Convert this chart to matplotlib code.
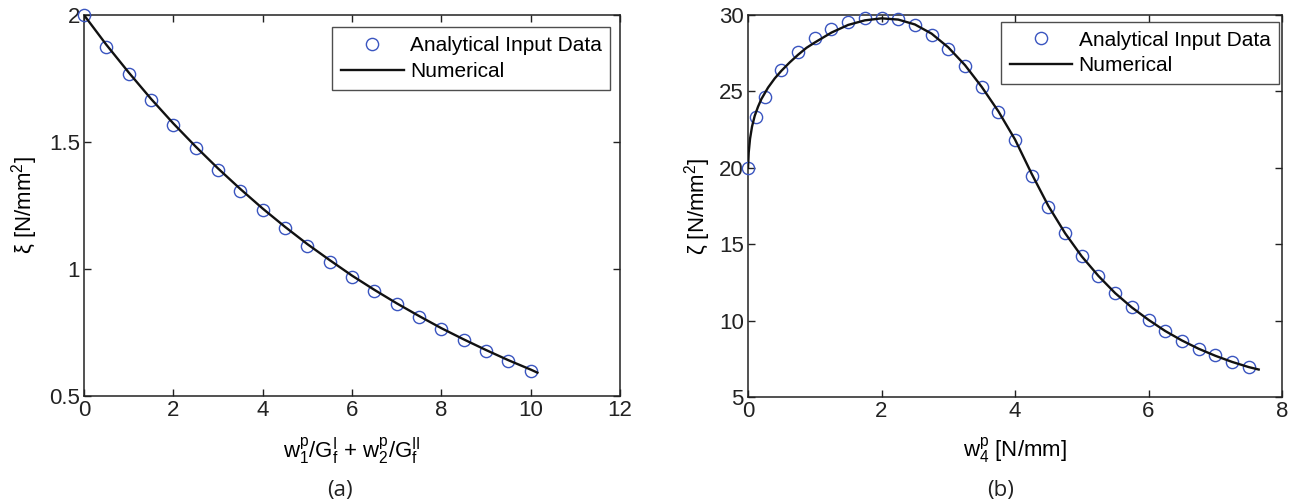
import matplotlib
matplotlib.use("Agg")
import matplotlib.pyplot as plt
from matplotlib.ticker import FuncFormatter

# ─── DATA ─────────────────────────────────────────────────────────────────────
# (a) xi vs combined dissipated work
xa_pts = [0.0, 0.5, 1.0, 1.5, 2.0, 2.5, 3.0, 3.5, 4.0, 4.5, 5.0,
          5.5, 6.0, 6.5, 7.0, 7.5, 8.0, 8.5, 9.0, 9.5, 10.0]
ya_pts = [2.000, 1.875, 1.768, 1.665, 1.567, 1.478, 1.390, 1.308, 1.232, 1.160, 1.092,
          1.029, 0.970, 0.913, 0.861, 0.812, 0.763, 0.720, 0.678, 0.638, 0.600]
xa_num = [0.0, 0.5, 1.0, 1.5, 2.0, 2.5, 3.0, 3.5, 4.0, 4.5, 5.0,
          5.5, 6.0, 6.5, 7.0, 7.5, 8.0, 8.5, 9.0, 9.5, 10.0, 10.15]
ya_num = [2.000, 1.883, 1.774, 1.670, 1.573, 1.482, 1.396, 1.315, 1.238, 1.166, 1.098,
          1.035, 0.974, 0.918, 0.865, 0.815, 0.767, 0.723, 0.681, 0.641, 0.604, 0.592]

# (b) zeta vs w4
xb_pts = [0.0, 0.125, 0.25, 0.5, 0.75, 1.0, 1.25, 1.5, 1.75, 2.0, 2.25, 2.5, 2.75,
          3.0, 3.25, 3.5, 3.75, 4.0, 4.25, 4.5, 4.75, 5.0, 5.25, 5.5, 5.75,
          6.0, 6.25, 6.5, 6.75, 7.0, 7.25, 7.5]
yb_pts = [20.0, 23.3, 24.65, 26.4, 27.6, 28.5, 29.08, 29.54, 29.78, 29.83, 29.74, 29.35, 28.71,
          27.77, 26.68, 25.27, 23.67, 21.82, 19.48, 17.45, 15.71, 14.2, 12.92, 11.79, 10.87,
          10.02, 9.32, 8.68, 8.16, 7.72, 7.32, 6.94]
xb_num = [0.0, 0.01, 0.03, 0.06, 0.1, 0.15, 0.2, 0.3, 0.4, 0.5, 0.625, 0.75, 0.875,
          1.0, 1.25, 1.5, 1.75, 2.0, 2.25, 2.5, 2.75, 3.0, 3.25, 3.5, 3.75,
          4.0, 4.25, 4.5, 4.75, 5.0, 5.25, 5.5, 5.75, 6.0, 6.25, 6.5, 6.75,
          7.0, 7.25, 7.5, 7.65]
yb_num = [20.0, 21.0, 21.9, 22.7, 23.4, 24.0, 24.5, 25.25, 25.85, 26.35, 26.9, 27.4, 27.85,
          28.2, 28.85, 29.35, 29.65, 29.78, 29.7, 29.38, 28.78, 27.88, 26.72, 25.3, 23.7,
          21.85, 19.6, 17.5, 15.72, 14.2, 12.92, 11.8, 10.86, 10.05, 9.32, 8.7, 8.16,
          7.7, 7.3, 6.96, 6.8]

LEGEND_LABELS = ["Analytical Input Data", "Numerical"]

# ─── STYLE ────────────────────────────────────────────────────────────────────
plt.rcParams["font.family"] = ["Liberation Sans", "DejaVu Sans"]
plt.rcParams["mathtext.fontset"] = "custom"
plt.rcParams["mathtext.rm"] = "Liberation Sans"
plt.rcParams["mathtext.it"] = "Liberation Sans"
plt.rcParams["mathtext.bf"] = "Liberation Sans:bold"

MARK_COLOR = "#3a55c0"
AX_COLOR = "#222222"
FS = 16

fig = plt.figure(figsize=(12.98, 5.03), dpi=100)
ax_a = fig.add_axes([0.0647, 0.2127, 0.4130, 0.7575])
ax_b = fig.add_axes([0.5763, 0.2107, 0.4114, 0.7595])


def style_axes(ax):
    for s in ax.spines.values():
        s.set_color(AX_COLOR)
        s.set_linewidth(1.1)
    ax.tick_params(direction="in", top=True, right=True, length=5, width=1,
                   labelsize=FS, colors=AX_COLOR, pad=3)
    ax.xaxis.set_major_formatter(FuncFormatter(lambda v, p: f"{v:g}"))
    ax.yaxis.set_major_formatter(FuncFormatter(lambda v, p: f"{v:g}"))


def draw(ax, xp, yp, xn, yn, anchor):
    ax.plot(xp, yp, "o", mfc="none", mec=MARK_COLOR, ms=8.8, mew=1.0,
            label=LEGEND_LABELS[0], zorder=3, clip_on=False)
    ax.plot(xn, yn, "-", color="#111111", lw=1.7, label=LEGEND_LABELS[1], zorder=4)
    leg = ax.legend(loc="upper right", bbox_to_anchor=anchor, fontsize=15,
                    frameon=True, fancybox=False, handlelength=3.0,
                    handletextpad=0.3, labelspacing=0.33, borderpad=0.42,
                    borderaxespad=0.0)
    leg.get_frame().set_edgecolor(AX_COLOR)
    leg.get_frame().set_linewidth(1.0)
    style_axes(ax)


# (a)
draw(ax_a, xa_pts, ya_pts, xa_num, ya_num, (0.982, 0.968))
ax_a.set_xlim(0, 12)
ax_a.set_ylim(0.5, 2)
ax_a.set_xticks([0, 2, 4, 6, 8, 10, 12])
ax_a.set_yticks([0.5, 1, 1.5, 2])
ax_a.set_xlabel(r"$\mathregular{w_1^p/G_f^I}$ + $\mathregular{w_2^p/G_f^{II}}$",
                fontsize=FS, labelpad=10)
ax_a.set_ylabel(r"ξ [N/mm$\mathregular{^2}$]", fontsize=FS, labelpad=6)

# (b)
draw(ax_b, xb_pts, yb_pts, xb_num, yb_num, (0.995, 0.982))
ax_b.set_xlim(0, 8)
ax_b.set_ylim(5, 30)
ax_b.set_xticks([0, 2, 4, 6, 8])
ax_b.set_yticks([5, 10, 15, 20, 25, 30])
ax_b.set_xlabel(r"$\mathregular{w_4^p}$ [N/mm]", fontsize=FS, labelpad=10)
ax_b.set_ylabel(r"ζ [N/mm$\mathregular{^2}$]", fontsize=FS, labelpad=4)

# panel captions
fig.text(0.262, 0.003, "(a)", ha="center", va="bottom", fontsize=16,
         family=["Open Sans", "DejaVu Sans"], color=AX_COLOR)
fig.text(0.771, 0.003, "(b)", ha="center", va="bottom", fontsize=16,
         family=["Open Sans", "DejaVu Sans"], color=AX_COLOR)

fig.savefig("out.png", dpi=100)
